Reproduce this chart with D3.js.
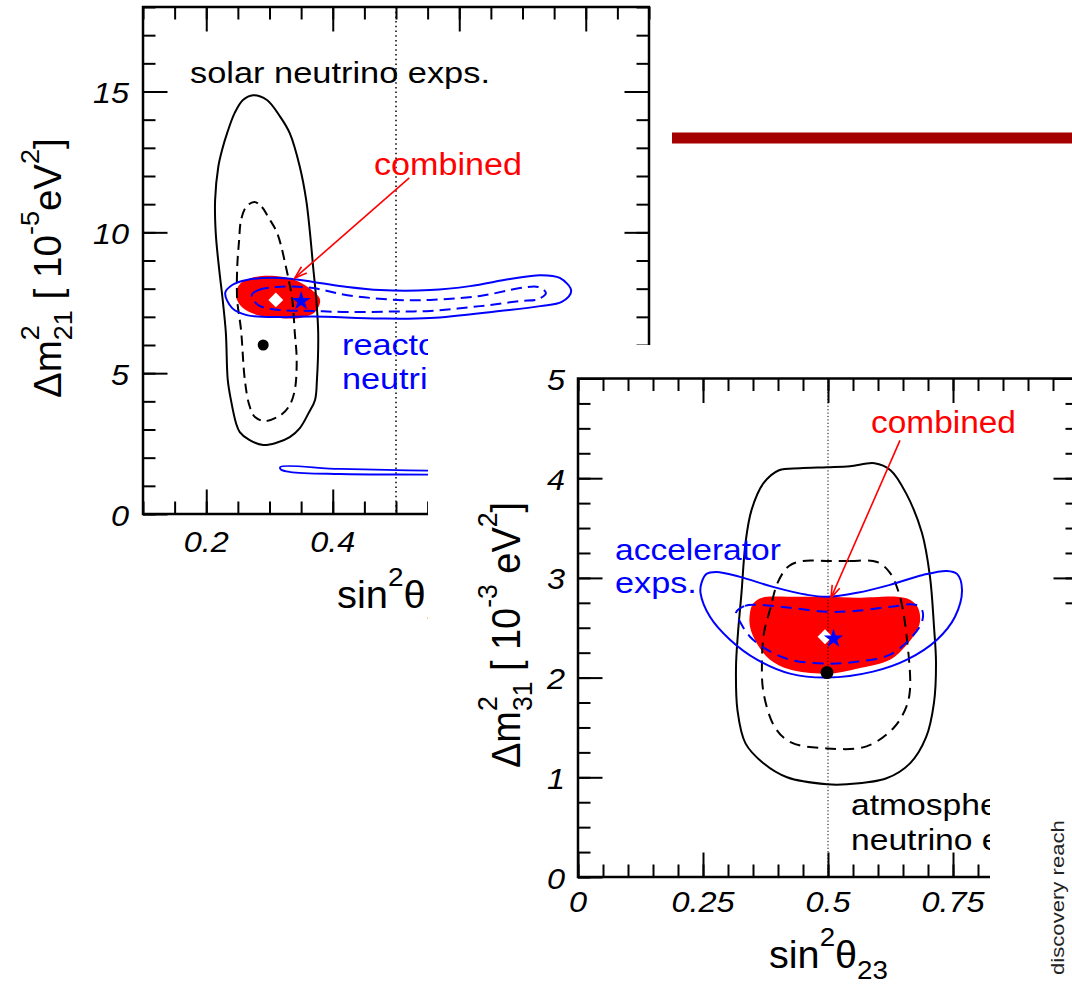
<!DOCTYPE html>
<html>
<head>
<meta charset="utf-8">
<script src="https://cdn.jsdelivr.net/npm/d3@7"></script>
<style>
  body { margin: 0; background: #fff; }
  svg { display: block; }
</style>
</head>
<body>
<div id="chart"></div>
<script>
// ---- data: sin^2(theta12) vs dm2_21 [1e-5 eV^2] ----
var solarOuter = [[0.274,14.87],[0.296,14.70],[0.317,14.10],[0.332,13.52],[0.348,12.32],[0.358,11.15],[0.364,9.98],[0.369,8.77],[0.374,7.60],[0.377,6.43],[0.375,4.76],[0.372,4.05],[0.362,3.59],[0.348,3.05],[0.332,2.73],[0.310,2.52],[0.290,2.45],[0.268,2.63],[0.253,2.91],[0.247,3.23],[0.239,4.05],[0.234,4.76],[0.231,6.43],[0.226,7.60],[0.220,8.77],[0.215,9.98],[0.214,11.15],[0.219,12.32],[0.225,12.92],[0.233,13.52],[0.245,14.24],[0.258,14.70]];
var solarInner = [[0.276,11.08],[0.288,10.90],[0.298,10.54],[0.312,9.98],[0.326,8.77],[0.336,7.60],[0.340,6.43],[0.343,5.47],[0.340,4.40],[0.332,3.87],[0.320,3.55],[0.294,3.30],[0.277,3.44],[0.268,3.87],[0.261,4.76],[0.255,6.53],[0.249,7.60],[0.249,8.77],[0.252,9.73],[0.255,10.44],[0.263,10.90]];
var reactorOuter = [[0.230,7.85],[0.241,8.13],[0.264,8.31],[0.317,8.38],[0.369,8.24],[0.423,8.06],[0.475,7.95],[0.554,7.95],[0.617,8.09],[0.680,8.34],[0.728,8.48],[0.759,8.38],[0.777,7.92],[0.762,7.53],[0.728,7.38],[0.664,7.21],[0.554,6.96],[0.475,6.94],[0.369,7.01],[0.317,6.99],[0.264,7.06],[0.241,7.31]];
var reactorInner = [[0.272,7.77],[0.282,7.95],[0.317,8.07],[0.369,8.02],[0.423,7.77],[0.502,7.60],[0.554,7.60],[0.633,7.74],[0.696,8.02],[0.725,8.06],[0.737,7.85],[0.725,7.63],[0.696,7.56],[0.633,7.38],[0.554,7.21],[0.502,7.19],[0.423,7.17],[0.369,7.21],[0.317,7.24],[0.282,7.42]];
var reactorLow = [[0.317,1.67],[0.411,1.60],[0.551,1.54],[0.823,1.53],[0.823,1.38],[0.551,1.40],[0.411,1.42],[0.333,1.49],[0.318,1.58]];
var combined12 = [[0.247,7.74],[0.253,8.16],[0.277,8.41],[0.309,8.45],[0.340,8.31],[0.367,7.95],[0.380,7.60],[0.372,7.17],[0.348,6.96],[0.317,6.96],[0.282,7.06],[0.258,7.31]];
var solarBest = [0.290, 6.0];
var combinedBest12 = [0.310, 7.60];
var reactorBest = [0.350, 7.56];
var arrow12 = [[0.521, 11.93], [0.340, 8.38]];

// ---- data: sin^2(theta23) vs dm2_31 [1e-3 eV^2] ----
var atmOuter = [[0.402,4.08],[0.444,4.10],[0.498,4.11],[0.544,4.12],[0.593,4.15],[0.625,4.08],[0.656,3.85],[0.688,3.45],[0.704,3.01],[0.712,2.51],[0.716,2.15],[0.712,1.75],[0.696,1.40],[0.664,1.14],[0.617,0.99],[0.538,0.93],[0.498,0.93],[0.418,1.00],[0.371,1.14],[0.335,1.34],[0.319,1.67],[0.316,2.10],[0.320,2.45],[0.327,2.85],[0.335,3.35],[0.347,3.68],[0.371,3.95]];
var atmInner = [[0.498,3.17],[0.544,3.17],[0.598,3.16],[0.624,3.05],[0.644,2.81],[0.658,2.38],[0.664,1.88],[0.656,1.70],[0.632,1.50],[0.577,1.31],[0.498,1.29],[0.426,1.35],[0.394,1.50],[0.371,1.85],[0.368,2.18],[0.372,2.45],[0.384,2.68],[0.400,2.96],[0.422,3.12],[0.450,3.17]];
var accOuter = [[0.247,2.95],[0.257,3.04],[0.277,3.06],[0.324,3.01],[0.390,2.91],[0.458,2.83],[0.498,2.81],[0.558,2.85],[0.624,2.93],[0.690,3.03],[0.738,3.07],[0.758,3.04],[0.768,2.88],[0.754,2.61],[0.718,2.38],[0.658,2.18],[0.590,2.06],[0.498,2.00],[0.424,2.04],[0.358,2.18],[0.304,2.38],[0.264,2.61],[0.245,2.85]];
var accInner = [[0.316,2.65],[0.334,2.72],[0.358,2.73],[0.424,2.70],[0.498,2.66],[0.558,2.67],[0.624,2.71],[0.674,2.73],[0.688,2.68],[0.688,2.56],[0.668,2.41],[0.624,2.23],[0.558,2.16],[0.498,2.14],[0.424,2.18],[0.378,2.28],[0.344,2.41],[0.324,2.56]];
var combined23 = [[0.344,2.65],[0.350,2.74],[0.368,2.80],[0.424,2.81],[0.498,2.81],[0.558,2.80],[0.638,2.81],[0.664,2.78],[0.680,2.70],[0.684,2.56],[0.674,2.44],[0.654,2.31],[0.624,2.18],[0.558,2.09],[0.498,2.04],[0.424,2.08],[0.384,2.18],[0.358,2.34],[0.344,2.51]];
var atmBest = [0.498, 2.05];
var combinedBest23 = [0.494, 2.41];
var accBest = [0.511, 2.39];
var arrow23 = [[0.644, 4.38], [0.506, 2.80]];

// ticks
var x12Major = [0.2, 0.4, 0.6, 0.8];
var y21Major = [0, 5, 10, 15];
var x23Major = [0, 0.25, 0.5, 0.75, 1];
var x23Labels = [0, 0.25, 0.5, 0.75];
var y31Major = [0, 1, 2, 3, 4, 5];

var FONT = "'Liberation Sans', Arial, Helvetica, sans-serif";
var W = 1072, H = 990;

var svg = d3.select("#chart").append("svg")
  .attr("width", W)
  .attr("height", H);

var defs = svg.append("defs");

// text with sup/sub parts, stretched horizontally to fit a width
function txt(parent, parts, o) {
  var t = parent.append("text")
    .attr("font-family", FONT)
    .attr("font-size", o.size)
    .attr("font-style", o.italic ? "italic" : null)
    .attr("fill", o.color || "#000");
  var off = 0;
  parts.forEach(function(p) {
    if (typeof p === "string") p = [p, 0, 1, 0];
    var target = p[1] * o.size;
    t.append("tspan")
      .attr("dy", target - off)
      .attr("dx", (p[3] || 0) * o.size)
      .attr("font-size", o.size * (p[2] || 1))
      .text(p[0]);
    off = target;
  });
  var w = t.node().getComputedTextLength();
  var sx = o.width ? o.width / w : (o.sx || 1);
  var len = w * sx;
  var a = o.anchor || "start";
  var shift = a === "end" ? -len : (a === "middle" ? -len / 2 : 0);
  if (o.rotate) {
    t.attr("transform", "translate(" + o.x + "," + o.y + ") rotate(-90) translate(" + shift + ",0) scale(" + sx + ",1)");
  } else {
    t.attr("transform", "translate(" + (o.x + shift) + "," + o.y + ") scale(" + sx + ",1)");
  }
  return t;
}

function frame(g, x, y, xMinor, xMajor, yMinor, yMajor) {
  var xr = x.range(), yr = y.range();
  var sides = [
    [d3.axisBottom(x), xMinor, xMajor, "translate(0," + yr[1] + ")"],
    [d3.axisTop(x), xMinor, xMajor, "translate(0," + yr[0] + ")"],
    [d3.axisRight(y), yMinor, yMajor, "translate(" + xr[0] + ",0)"],
    [d3.axisLeft(y), yMinor, yMajor, "translate(" + xr[1] + ",0)"]
  ];
  sides.forEach(function(s) {
    [[s[1], 12.5], [s[2], 24.5]].forEach(function(v) {
      var a = g.append("g").attr("transform", s[3])
        .call(s[0].tickValues(v[0]).tickSize(v[1]).tickFormat(""));
      a.select(".domain").remove();
      a.selectAll("line").attr("stroke", "#000").attr("stroke-width", 2);
    });
  });
  g.append("rect")
    .attr("x", xr[0]).attr("y", yr[1])
    .attr("width", xr[1] - xr[0]).attr("height", yr[0] - yr[1])
    .attr("fill", "none").attr("stroke", "#000").attr("stroke-width", 2.5);
}

function arrow(g, x, y, pts, color) {
  var p0 = [x(pts[0][0]), y(pts[0][1])], p1 = [x(pts[1][0]), y(pts[1][1])];
  var ang = Math.atan2(p1[1] - p0[1], p1[0] - p0[0]);
  var L = 13, sp = 0.32;
  g.append("line")
    .attr("x1", p0[0]).attr("y1", p0[1]).attr("x2", p1[0]).attr("y2", p1[1])
    .attr("stroke", color).attr("stroke-width", 1.6);
  g.append("path")
    .attr("d", "M" + (p1[0] + L * Math.cos(ang + Math.PI - sp)) + "," + (p1[1] + L * Math.sin(ang + Math.PI - sp)) +
      "L" + p1[0] + "," + p1[1] +
      "L" + (p1[0] + L * Math.cos(ang + Math.PI + sp)) + "," + (p1[1] + L * Math.sin(ang + Math.PI + sp)))
    .attr("fill", "none").attr("stroke", color).attr("stroke-width", 1.6);
}

function markers(g, x, y, dot, dotR, diamond, star) {
  g.append("circle").attr("cx", x(dot[0])).attr("cy", y(dot[1])).attr("r", dotR).attr("fill", "#000");
  g.append("path")
    .attr("d", d3.symbol(d3.symbolSquare, 110)())
    .attr("transform", "translate(" + x(diamond[0]) + "," + y(diamond[1]) + ") rotate(45)")
    .attr("fill", "#fff");
  g.append("path")
    .attr("d", d3.symbol(d3.symbolStar, 115)())
    .attr("transform", "translate(" + x(star[0]) + "," + y(star[1]) + ")")
    .attr("fill", "#0000ff");
}

// ================= panel 1 =================
var x1 = d3.scaleLinear().domain([0.1, 0.9]).range([143, 649]);
var y1 = d3.scaleLinear().domain([0, 18]).range([514, 7]);
var line1 = d3.line().x(function(d) { return x1(d[0]); }).y(function(d) { return y1(d[1]); })
  .curve(d3.curveCatmullRomClosed.alpha(0.5));

defs.append("clipPath").attr("id", "clip1").append("rect")
  .attr("x", 143).attr("y", 7).attr("width", 506).attr("height", 507);

var p1 = svg.append("g").attr("class", "panel1");
var c1 = p1.append("g").attr("clip-path", "url(#clip1)");

c1.append("path").attr("d", line1(combined12)).attr("fill", "#ff0000");
c1.append("line")
  .attr("x1", x1(0.5)).attr("x2", x1(0.5)).attr("y1", y1(18)).attr("y2", y1(0))
  .attr("stroke", "#000").attr("stroke-width", 1.5).attr("stroke-dasharray", "1.5,3.2");
c1.append("path").attr("d", line1(solarOuter)).attr("fill", "none").attr("stroke", "#000").attr("stroke-width", 2);
c1.append("path").attr("d", line1(solarInner)).attr("fill", "none").attr("stroke", "#000").attr("stroke-width", 2).attr("stroke-dasharray", "10,6");
c1.append("path").attr("d", line1(reactorOuter)).attr("fill", "none").attr("stroke", "#0000ff").attr("stroke-width", 2);
c1.append("path").attr("d", line1(reactorInner)).attr("fill", "none").attr("stroke", "#0000ff").attr("stroke-width", 2).attr("stroke-dasharray", "11,6");
c1.append("path").attr("d", line1(reactorLow)).attr("fill", "none").attr("stroke", "#0000ff").attr("stroke-width", 1.8);
markers(c1, x1, y1, solarBest, 5.5, combinedBest12, reactorBest);

frame(p1, x1, y1, d3.range(0.1, 0.9001, 0.05), x12Major, d3.range(0, 18.001, 1), y21Major);

arrow(p1, x1, y1, arrow12, "#ff0000");
txt(p1, ["solar neutrino exps."], { x: 190, y: 83, size: 29, width: 300 });
txt(p1, ["combined"], { x: 374, y: 175, size: 31, width: 148, color: "#ff0000" });

defs.append("clipPath").attr("id", "clipReactor").append("rect")
  .attr("x", 0).attr("y", 0).attr("width", 428).attr("height", 990);
var rtx = p1.append("g").attr("clip-path", "url(#clipReactor)");
txt(rtx, ["reactor"], { x: 342, y: 355, size: 29, sx: 1.18, color: "#0000ff" });
txt(rtx, ["neutrinos"], { x: 342, y: 389, size: 29, sx: 1.18, color: "#0000ff" });

y21Major.forEach(function(v) {
  txt(p1, [String(v)], { x: 129, y: y1(v) + 11.5, size: 30, italic: true, sx: 1.08, anchor: "end" });
});
x12Major.forEach(function(v) {
  txt(p1, [String(v)], { x: x1(v), y: 552, size: 30, italic: true, sx: 1.08, anchor: "middle" });
});
txt(p1, ["sin", ["2", -0.58, 0.7], ["\u03b8", 0, 1], ["12", 0.3, 0.7]], { x: 337, y: 608, size: 38, sx: 1.05 });
txt(p1, ["\u0394m", ["2", -0.58, 0.7], ["21", 0.3, 0.7, -0.39], [" [ 10", 0, 1], ["-5", -0.58, 0.7], ["eV", 0, 1], ["2", -0.58, 0.7], ["]", 0, 1]],
  { x: 61, y: 398, size: 38, width: 275, rotate: true });

// cover for panel 2
svg.append("rect").attr("x", 428).attr("y", 345).attr("width", W - 428).attr("height", H - 345).attr("fill", "#fff");

// ================= panel 2 =================
var x2 = d3.scaleLinear().domain([0, 1]).range([578, 1078]);
var y2 = d3.scaleLinear().domain([0, 5]).range([877, 378.5]);
var line2 = d3.line().x(function(d) { return x2(d[0]); }).y(function(d) { return y2(d[1]); })
  .curve(d3.curveCatmullRomClosed.alpha(0.5));

defs.append("clipPath").attr("id", "clip2").append("rect")
  .attr("x", 578).attr("y", 378.5).attr("width", 500).attr("height", 498.5);

var p2 = svg.append("g").attr("class", "panel2");
var c2 = p2.append("g").attr("clip-path", "url(#clip2)");

c2.append("path").attr("d", line2(combined23)).attr("fill", "#ff0000");
c2.append("line")
  .attr("x1", x2(0.5)).attr("x2", x2(0.5)).attr("y1", y2(5)).attr("y2", y2(0))
  .attr("stroke", "#000").attr("stroke-width", 1).attr("stroke-dasharray", "1.2,2.2");
c2.append("path").attr("d", line2(atmOuter)).attr("fill", "none").attr("stroke", "#000").attr("stroke-width", 2);
c2.append("path").attr("d", line2(atmInner)).attr("fill", "none").attr("stroke", "#000").attr("stroke-width", 2).attr("stroke-dasharray", "11,7");
c2.append("path").attr("d", line2(accOuter)).attr("fill", "none").attr("stroke", "#0000ff").attr("stroke-width", 2);
c2.append("path").attr("d", line2(accInner)).attr("fill", "none").attr("stroke", "#0000ff").attr("stroke-width", 2).attr("stroke-dasharray", "11,7");
markers(c2, x2, y2, atmBest, 6.5, combinedBest23, accBest);

frame(p2, x2, y2, d3.range(0, 1.0001, 0.05), x23Major, d3.range(0, 5.001, 0.25), y31Major);

arrow(p2, x2, y2, arrow23, "#ff0000");
txt(p2, ["combined"], { x: 871, y: 433, size: 31, width: 145, color: "#ff0000" });
txt(p2, ["accelerator"], { x: 615, y: 560, size: 29, width: 166, color: "#0000ff" });
txt(p2, ["exps."], { x: 615, y: 593, size: 29, sx: 1.18, color: "#0000ff" });
txt(p2, ["atmospheric"], { x: 851, y: 815, size: 29, sx: 1.16 });
txt(p2, ["neutrino exps."], { x: 851, y: 850, size: 29, sx: 1.16 });

y31Major.forEach(function(v) {
  txt(p2, [String(v)], { x: 565, y: y2(v) + 11.5, size: 30, italic: true, sx: 1.08, anchor: "end" });
});
x23Labels.forEach(function(v) {
  txt(p2, [String(v)], { x: x2(v), y: 912, size: 30, italic: true, sx: 1.08, anchor: "middle" });
});
txt(p2, ["sin", ["2", -0.58, 0.7], ["\u03b8", 0, 1], ["23", 0.3, 0.7]], { x: 769, y: 968, size: 38, width: 119 });
txt(p2, ["\u0394m", ["2", -0.58, 0.7], ["31", 0.3, 0.7, -0.39], [" [ 10", 0, 1], ["-3", -0.58, 0.7], [" eV", 0, 1], ["2", -0.58, 0.7], ["]", 0, 1]],
  { x: 520, y: 768, size: 40, width: 281, rotate: true });

// cover for panel 3
svg.append("rect").attr("x", 990).attr("y", 627).attr("width", W - 990).attr("height", H - 627).attr("fill", "#fff");
txt(svg, ["discovery reach"], { x: 1064, y: 975, size: 18, width: 155, rotate: true, color: "#222" });

// bar from neighbouring figure
svg.append("rect").attr("x", 672).attr("y", 132.5).attr("width", W - 672).attr("height", 11)
  .attr("fill", "#a50000");
</script>
</body>
</html>
